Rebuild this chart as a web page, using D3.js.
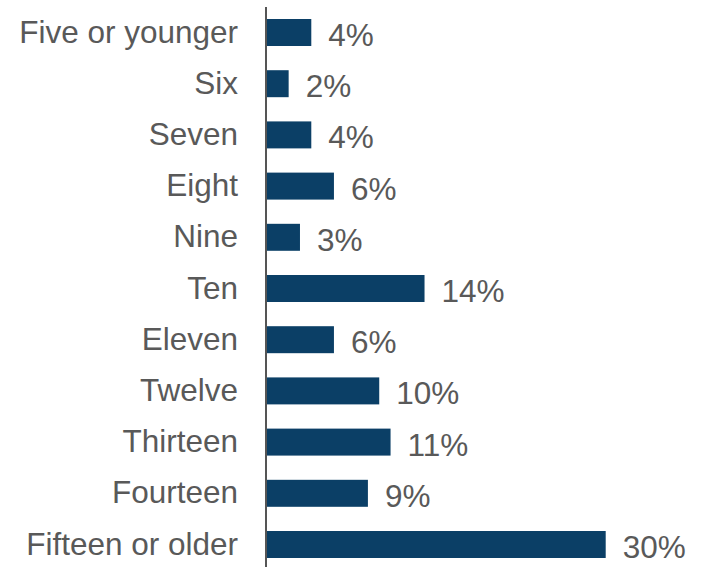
<!DOCTYPE html>
<html>
<head>
<meta charset="utf-8">
<script src="https://cdn.jsdelivr.net/npm/d3@7"></script>
<style>
html,body{margin:0;padding:0;background:#fff;}
svg{display:block;}
</style>
</head>
<body>
<svg id="chart" width="711" height="567"></svg>
<script>
const categories = ["Five or younger","Six","Seven","Eight","Nine","Ten","Eleven","Twelve","Thirteen","Fourteen","Fifteen or older"];
const values = [4,2,4,6,3,14,6,10,11,9,30];
const valueLabels = ["4%","2%","4%","6%","3%","14%","6%","10%","11%","9%","30%"];

const svg = d3.select("#chart");
const font = "'Liberation Sans', Arial, sans-serif";
const fontSize = 31.5;

const x = d3.scaleLinear().domain([0,30]).range([266,605.7]);
const y = d3.scaleBand().domain(categories).range([6.9,570.1]).paddingInner(0.473).paddingOuter(0.2365);

svg.selectAll("rect.bar").data(values).enter().append("rect")
  .attr("class","bar")
  .attr("x", x(0))
  .attr("y", (d,i)=>y(categories[i]))
  .attr("width", d=>x(d)-x(0))
  .attr("height", y.bandwidth())
  .attr("fill","#0b3f66");

// axis line
svg.append("line")
  .attr("x1",266).attr("x2",266)
  .attr("y1",7).attr("y2",567)
  .attr("stroke","#555").attr("stroke-width",2);

svg.selectAll("text.cat").data(categories).enter().append("text")
  .attr("class","cat")
  .attr("x",238)
  .attr("y", d=>y(d)+y.bandwidth()/2+10)
  .attr("text-anchor","end")
  .attr("font-family",font)
  .attr("font-size",fontSize)
  .attr("fill","#595959")
  .text(d=>d);

svg.selectAll("text.val").data(values).enter().append("text")
  .attr("class","val")
  .attr("x", d=>x(d)+17)
  .attr("y", (d,i)=>y(categories[i])+y.bandwidth()/2+13.5)
  .attr("font-family",font)
  .attr("font-size",fontSize)
  .attr("fill","#595959")
  .text((d,i)=>valueLabels[i]);
</script>
</body>
</html>
